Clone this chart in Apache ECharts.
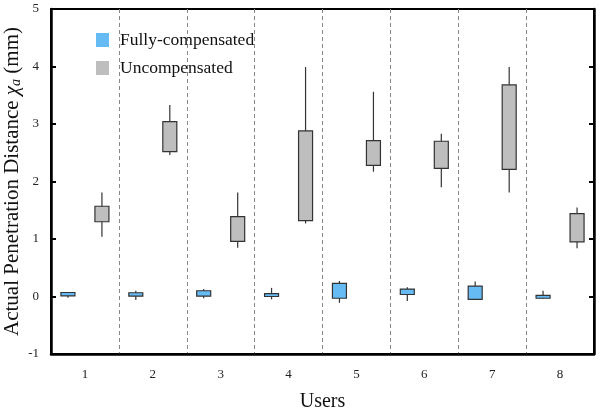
<!DOCTYPE html>
<html>
<head>
<meta charset="utf-8">
<script src="https://cdn.jsdelivr.net/npm/echarts@6/dist/echarts.min.js"></script>
<style>
  html, body { margin: 0; padding: 0; background: #fff; }
  #chart { width: 600px; height: 409px; }
</style>
</head>
<body>
<div id="chart"></div>
<script>
const users = ['1', '2', '3', '4', '5', '6', '7', '8']
const yTicks = [-1, 0, 1, 2, 3, 4, 5]

// [low, q1, q3, high]
const fullyComp = [
  [-0.02, 0.01, 0.07, 0.08],
  [-0.06, 0.005, 0.065, 0.1],
  [-0.03, 0.005, 0.1, 0.13],
  [-0.05, 0.0, 0.05, 0.15],
  [-0.11, -0.03, 0.23, 0.27],
  [-0.08, 0.035, 0.13, 0.16],
  [-0.06, -0.05, 0.18, 0.26],
  [-0.04, -0.03, 0.02, 0.1]
]
const uncomp = [
  [1.04, 1.30, 1.57, 1.81],
  [2.46, 2.52, 3.04, 3.33],
  [0.85, 0.96, 1.39, 1.81],
  [1.27, 1.32, 2.88, 3.99],
  [2.17, 2.28, 2.71, 3.56],
  [1.90, 2.23, 2.70, 2.83],
  [1.81, 2.21, 3.68, 3.99],
  [0.84, 0.95, 1.44, 1.55]
]

const chart = echarts.init(document.getElementById('chart'))

const serif = 'Liberation Serif'

// draw a whisker line plus box for each user, using the axis scales
function boxRenderer(offset, boxW) {
  return function (params, api) {
    const x = api.value(0)
    const low = api.coord([x, api.value(1)])
    const q1 = api.coord([x, api.value(2)])
    const q3 = api.coord([x, api.value(3)])
    const high = api.coord([x, api.value(4)])
    const cx = low[0] + offset
    const style = api.style()
    return {
      type: 'group',
      children: [
        {
          type: 'line',
          shape: { x1: cx, y1: high[1], x2: cx, y2: low[1] },
          style: { stroke: '#333', lineWidth: 1.2 }
        },
        {
          type: 'rect',
          shape: { x: cx - boxW / 2, y: q3[1], width: boxW, height: q1[1] - q3[1] },
          style: { fill: style.fill, stroke: '#333', lineWidth: 1.2 }
        }
      ]
    }
  }
}

const toData = arr => arr.map((d, i) => [i, d[0], d[1], d[2], d[3]])

const option = {
  animation: false,
  grid: {
    left: 51,
    right: 6,
    top: 9,
    bottom: 55,
    outerBoundsMode: 'none',
    containLabel: false,
    show: true,
    borderColor: '#000',
    borderWidth: 2
  },
  legend: {
    orient: 'vertical',
    left: 96,
    top: 31,
    padding: 0,
    itemWidth: 13,
    itemHeight: 14,
    itemGap: 10,
    icon: 'rect',
    textStyle: { fontFamily: serif, fontSize: 17.5, color: '#111', padding: [0, 0, 0, 6] },
    data: [
      { name: 'Fully-compensated', itemStyle: { color: '#66BBF5', borderWidth: 0 } },
      { name: 'Uncompensated', itemStyle: { color: '#BEBEBE', borderWidth: 0 } }
    ]
  },
  xAxis: {
    type: 'category',
    data: users,
    name: 'Users',
    nameLocation: 'middle',
    nameGap: 38,
    nameMoveOverlap: false,
    nameTextStyle: { fontFamily: serif, fontSize: 20, color: '#111' },
    axisLine: { onZero: false, lineStyle: { color: '#000', width: 2.5 } },
    axisTick: { show: false },
    axisLabel: { fontFamily: serif, fontSize: 13, color: '#222', margin: 14 },
    splitLine: { show: true, lineStyle: { color: '#888', type: [4, 3], width: 1 } }
  },
  yAxis: [
    {
      type: 'value',
      min: yTicks[0],
      max: yTicks[yTicks.length - 1],
      interval: 1,
      name: 'Actual Penetration Distance {i|χ}{sub|a} (mm)',
      nameLocation: 'middle',
      nameGap: 28,
      nameMoveOverlap: false,
      nameTextStyle: {
        fontFamily: serif,
        fontSize: 21,
        color: '#111',
        rich: {
          i: { fontFamily: serif, fontSize: 21, fontStyle: 'italic', color: '#111' },
          sub: { fontFamily: serif, fontSize: 14, fontStyle: 'italic', color: '#111', padding: [8, 0, 0, 0] }
        }
      },
      axisLine: { show: true, onZero: false, lineStyle: { color: '#000', width: 2.5 } },
      axisTick: { show: true, inside: true, length: 5, lineStyle: { color: '#000', width: 2 } },
      axisLabel: { fontFamily: serif, fontSize: 13, color: '#222', margin: 12 },
      splitLine: { show: false }
    },
    {
      type: 'value',
      position: 'right',
      min: yTicks[0],
      max: yTicks[yTicks.length - 1],
      interval: 1,
      axisLine: { show: true, onZero: false, lineStyle: { color: '#000', width: 2.5 } },
      axisTick: { show: true, inside: true, length: 5, lineStyle: { color: '#000', width: 2 } },
      axisLabel: { show: false },
      splitLine: { show: false }
    }
  ],
  series: [
    {
      name: 'Fully-compensated',
      type: 'custom',
      renderItem: boxRenderer(-17, 14),
      itemStyle: { color: '#66BBF5' },
      encode: { x: 0, y: [1, 2, 3, 4] },
      data: toData(fullyComp)
    },
    {
      name: 'Uncompensated',
      type: 'custom',
      renderItem: boxRenderer(17, 14),
      itemStyle: { color: '#BEBEBE' },
      encode: { x: 0, y: [1, 2, 3, 4] },
      data: toData(uncomp)
    }
  ]
}

chart.setOption(option)
</script>
</body>
</html>
